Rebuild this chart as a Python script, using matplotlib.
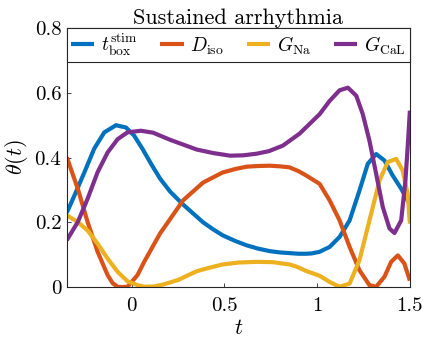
import matplotlib
matplotlib.use("Agg")
import matplotlib.pyplot as plt

plt.rcParams['font.family'] = 'serif'
plt.rcParams['font.serif'] = ['cmr10']
plt.rcParams['mathtext.fontset'] = 'cm'
plt.rcParams['axes.formatter.use_mathtext'] = True

# Blue: t_box^stim
t_blue = [-0.35, -0.309, -0.255, -0.202, -0.148, -0.085, -0.031, 0.013, 0.058, 0.105, 0.153, 0.207, 0.277, 0.385,
          0.44, 0.49, 0.56, 0.62, 0.68, 0.745, 0.8, 0.85, 0.9, 0.94, 0.97, 1.013, 1.067, 1.121, 1.175, 1.228,
          1.273, 1.318, 1.363, 1.407, 1.453, 1.5]
y_blue = [0.230, 0.283, 0.355, 0.428, 0.478, 0.500, 0.493, 0.468, 0.427, 0.380, 0.335, 0.295, 0.255, 0.200,
          0.178, 0.160, 0.142, 0.129, 0.119, 0.111, 0.107, 0.105, 0.103, 0.103, 0.104, 0.109, 0.124, 0.155, 0.206, 0.298,
          0.381, 0.411, 0.391, 0.345, 0.304, 0.255]

# Orange: D_iso
t_orange = [-0.35, -0.291, -0.238, -0.184, -0.130, -0.103, -0.076, -0.05, -0.023, 0.031, 0.067, 0.153, 0.207,
            0.277, 0.385, 0.49, 0.56, 0.62, 0.68, 0.745, 0.8, 0.85, 0.9, 0.94, 1.013, 1.067, 1.121, 1.175, 1.228,
            1.282, 1.318, 1.363, 1.399, 1.435, 1.47, 1.5]
y_orange = [0.401, 0.304, 0.201, 0.109, 0.037, 0.012, 0.001, 0.000, 0.001, 0.037, 0.078, 0.166, 0.210,
            0.268, 0.323, 0.354, 0.365, 0.372, 0.374, 0.375, 0.373, 0.370, 0.358, 0.345, 0.319, 0.268, 0.206, 0.124, 0.052,
            0.006, 0.001, 0.032, 0.078, 0.098, 0.073, 0.020]

# Yellow: G_Na
t_yellow = [-0.35, -0.291, -0.238, -0.184, -0.130, -0.076, -0.023, 0.031, 0.067, 0.12, 0.17, 0.25, 0.35, 0.42,
            0.49, 0.58, 0.673, 0.76, 0.85, 0.89, 0.94, 1.013, 1.067, 1.121, 1.175, 1.228, 1.282, 1.336, 1.38,
            1.426, 1.461, 1.488, 1.5]
y_yellow = [0.222, 0.201, 0.175, 0.134, 0.088, 0.047, 0.018, 0.006, 0.001, 0.002, 0.008, 0.022, 0.049, 0.060,
            0.070, 0.076, 0.078, 0.077, 0.070, 0.063, 0.050, 0.035, 0.016, 0.001, 0.011, 0.083, 0.206, 0.329, 0.386,
            0.396, 0.360, 0.288, 0.196]

# Purple: G_CaL
t_purple = [-0.35, -0.291, -0.238, -0.184, -0.130, -0.076, -0.023, 0.049, 0.115, 0.207, 0.35, 0.44, 0.53, 0.6,
            0.673, 0.74, 0.815, 0.905, 1.013, 1.067, 1.121, 1.166, 1.211, 1.246, 1.282, 1.318, 1.354, 1.39, 1.417,
            1.453, 1.476, 1.488, 1.5]
y_purple = [0.145, 0.201, 0.273, 0.355, 0.416, 0.457, 0.478, 0.483, 0.477, 0.455, 0.425, 0.414, 0.406, 0.407,
            0.412, 0.420, 0.437, 0.474, 0.534, 0.575, 0.608, 0.616, 0.591, 0.534, 0.452, 0.350, 0.247, 0.181, 0.167,
            0.206, 0.329, 0.432, 0.545]

labels = [r'$t_{\rm box}^{\rm stim}$', r'$D_{\rm iso}$', r'$G_{\rm Na}$', r'$G_{\rm CaL}$']
colors = ['#0072BD', '#D95319', '#EDB120', '#7E2F8E']

fig = plt.figure(figsize=(4.23, 3.43), dpi=100)
ax = fig.add_axes([0.158, 0.163, 0.811, 0.755])

series = [(t_blue, y_blue), (t_orange, y_orange), (t_yellow, y_yellow), (t_purple, y_purple)]
for (t, y), c, lab in zip(series, colors, labels):
    ax.plot(t, y, color=c, lw=3.0, label=lab, solid_joinstyle='round', solid_capstyle='butt')

ax.set_xlim(-0.35, 1.5)
ax.set_ylim(0, 0.8)
ax.set_xticks([0, 0.5, 1, 1.5])
ax.set_xticklabels(['0', '0.5', '1', '1.5'])
ax.set_yticks([0, 0.2, 0.4, 0.6, 0.8])
ax.set_yticklabels(['0', '0.2', '0.4', '0.6', '0.8'])
ax.tick_params(direction='in', length=3, width=0.6, labelsize=15, color='#262626')
ax.tick_params(axis='x', pad=7)
ax.tick_params(axis='y', pad=4)
for s in ax.spines.values():
    s.set_linewidth(0.8)
    s.set_color('#262626')

ax.set_xlabel(r'$t$', fontsize=16, labelpad=3)
ax.set_ylabel(r'$\theta(t)$', fontsize=16, labelpad=3)
ax.set_title('Sustained arrhythmia', fontsize=16, pad=3)

leg = ax.legend(loc='upper left', bbox_to_anchor=(0, 1.0, 1.0, 0.0), mode='expand',
                ncol=4, frameon=True, fancybox=False, borderaxespad=0,
                fontsize=14, handlelength=1.2, handletextpad=0.35, columnspacing=1.35,
                borderpad=0.2)
leg.get_frame().set_edgecolor('#262626')
leg.get_frame().set_linewidth(0.8)
leg.get_frame().set_alpha(1)

fig.savefig('out.png', dpi=100)
